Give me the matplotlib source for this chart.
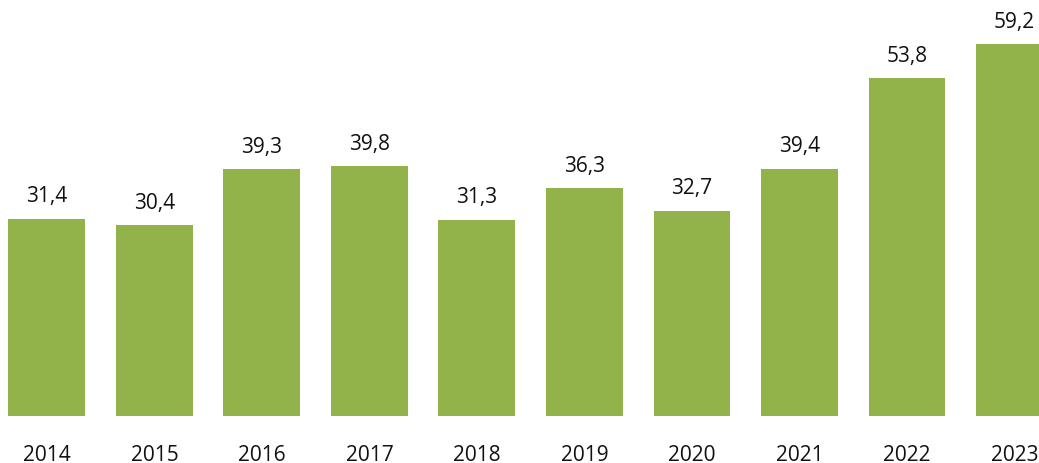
import matplotlib.pyplot as plt

years = ["2014", "2015", "2016", "2017", "2018", "2019", "2020", "2021", "2022", "2023"]
values = [31.4, 30.4, 39.3, 39.8, 31.3, 36.3, 32.7, 39.4, 53.8, 59.2]

plt.rcParams["font.family"] = ["Open Sans", "DejaVu Sans"]

fig = plt.figure(figsize=(10.39, 4.64), dpi=100)
ax = fig.add_axes([0, 0.101, 1, 0.899])

x = list(range(len(years)))
ax.bar(x, values, width=0.716, color="#92B24A")

for xi, v in zip(x, values):
    ax.text(xi, v + 2.0, f"{v:.1f}".replace(".", ","), ha="center", va="bottom",
            fontsize=15, color="#111111")

ax.set_xlim(-0.437, 9.228)
ax.set_ylim(0, 66.4)
ax.set_xticks(x)
ax.set_xticklabels(years, fontsize=15, color="#111111")
ax.tick_params(axis="x", length=0, pad=20)
ax.set_yticks([])
for s in ax.spines.values():
    s.set_visible(False)

fig.savefig("out.png", dpi=100)
